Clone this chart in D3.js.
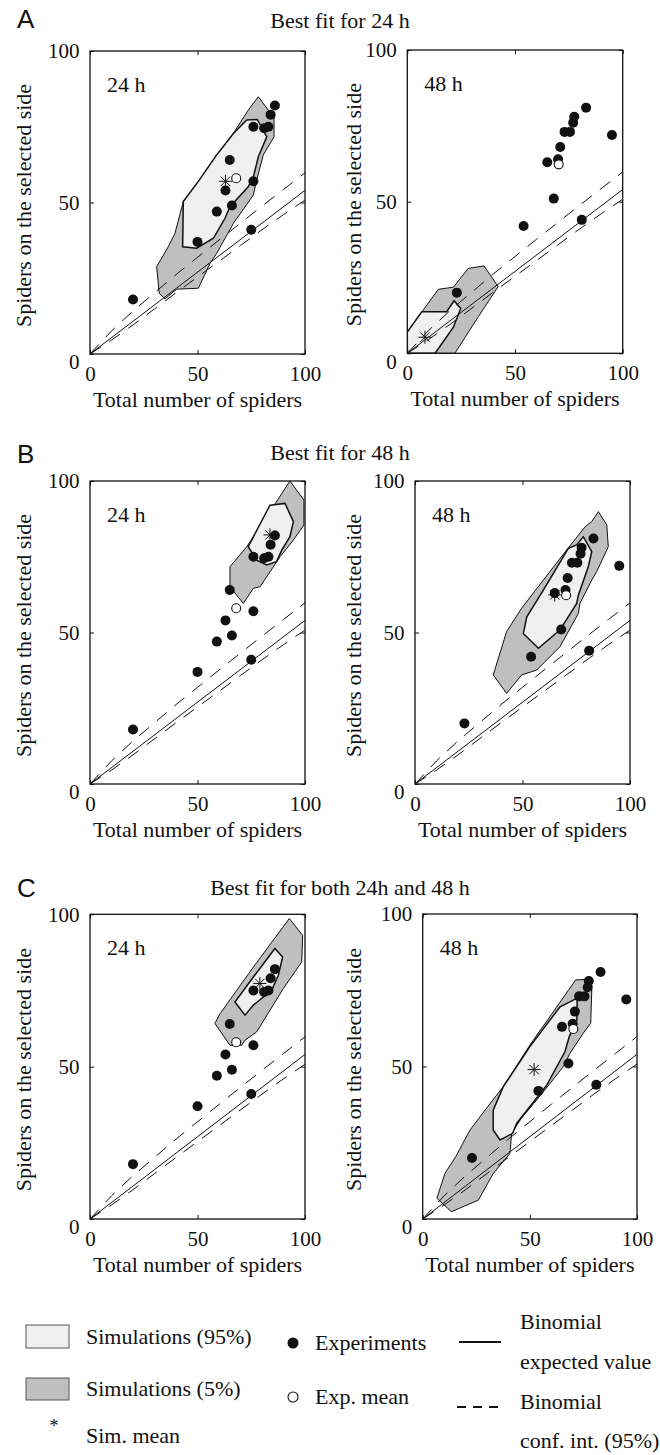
<!DOCTYPE html>
<html>
<head>
<meta charset="utf-8">
<script src="https://cdn.jsdelivr.net/npm/d3@7"></script>
<style>
body { margin: 0; background: #fff; }
text { font-family: "Liberation Serif", "Times New Roman", serif; fill: #111; }
</style>
</head>
<body>
<svg id="chart" width="660" height="1455"></svg>
<script>
// experiments (total spiders, spiders on selected side)
var exp24N = [20, 50, 59, 66, 63, 65, 76, 75, 76, 81, 83, 84, 86];
var exp24S = [18, 37, 47, 49, 54, 64, 57, 41, 75, 74.5, 75, 79, 82];
var exp48N = [23, 54, 68, 81, 65, 70, 71, 73, 75.5, 77, 77.5, 83, 95];
var exp48S = [20, 42, 51, 44, 63, 64, 68, 73, 73, 76, 78, 81, 72];
var expMean24 = [68, 58];
var expMean48 = [70.3, 62.3];

// simulation means
var simMeanA24 = [63, 57];
var simMeanA48 = [8.2, 5.3];
var simMeanB24 = [83.7, 82.2];
var simMeanB48 = [65, 62.4];
var simMeanC24 = [79, 77.3];
var simMeanC48 = [52, 49];

// binomial expected value and 95% conf. int.
var binomMean = [[0, 0], [100, 54]];
var binomUpper = [[0, 0], [10, 7.6], [20, 14.2], [30, 20.2], [40, 26.2], [50, 31.9], [60, 37.6], [70, 43.2], [80, 48.8], [90, 54.3], [100, 59.8]];
var binomLower = [[0, 0], [10, 4.6], [20, 9.6], [30, 14.9], [40, 20.2], [50, 25.4], [60, 30.6], [70, 35.8], [80, 41.0], [90, 46.0], [100, 50.8]];

// simulation regions: 5% (dark) and 95% (light)
var darkA24 = [[78.3,84.9],[82.9,80.5],[85.6,78.9],[85.6,71.7],[80.6,65.7],[77.5,57.4],[76.0,52.5],[66.7,43.1],[58.9,33.2],[55.8,29.9],[50.4,21.7],[40.3,21.4],[34.9,18.2],[32.2,20.0],[31.0,28.8],[36.4,35.4],[39.5,39.8],[43.4,50.3],[51.2,57.4],[57.4,64.0],[66.7,72.8],[73.6,80.5]];
var lightA24 = [[72.9,77.2],[77.8,77.4],[82.2,71.7],[78.3,65.1],[76.0,58.5],[73.6,55.2],[65.1,48.6],[62.8,44.8],[57.4,38.2],[49.6,34.9],[43.1,35.4],[43.4,50.3],[50.8,57.4],[58.9,65.7],[66.7,72.8]];
var darkA48 = [[0,0],[0,7],[14.4,21.1],[21.4,21.8],[28.3,28.0],[35.6,28.8],[42.2,22.0],[33.0,12.1],[22.1,0]];
var lightA48 = [[0,0],[0,7],[6.7,13.7],[18.3,13.7],[21.7,17.3],[24.8,14.8],[21.4,8.6],[12.9,0]];
var darkB24 = [[93.0,100],[99.5,93.7],[99.5,85.5],[94.6,80.5],[88.4,75.0],[79.1,65.1],[76.0,64.6],[71.3,59.6],[65.1,65.1],[65.1,71.7],[72.9,78.3],[82.2,88.2]];
var lightB24 = [[83.7,92.0],[90.7,92.6],[94.6,86.6],[93.0,81.6],[89.2,77.2],[86.8,73.4],[82.2,72.3],[77.5,73.9],[73.6,78.3],[79.1,85.8]];
var darkB48 = [[85.3,89.9],[89.2,85.5],[89.9,78.3],[84.5,70.1],[82.2,67.3],[76.7,59.6],[76.0,56.3],[67.4,45.3],[56.6,37.6],[49.6,36.0],[42.6,29.9],[36.4,36.0],[42.6,50.3],[49.6,58.0],[59.7,67.3],[70.5,77.2],[79.1,84.9],[82.2,86.6]];
var lightB48 = [[78.3,81.6],[82.2,76.7],[80.6,71.7],[76.0,62.4],[75.2,59.6],[67.4,50.8],[57.4,44.8],[50.4,49.7],[52.0,55.2],[59.7,64.0],[71.3,77.8],[75.2,78.9]];
var darkC24 = [[92.7,98.6],[98.9,93.1],[98.5,84.4],[89.9,75.6],[77.5,61.4],[72.1,58.7],[70.5,57.0],[65.1,57.0],[58.1,64.2],[60.5,67.4],[76.0,82.7]];
var lightC24 = [[86.0,88.8],[89.6,86.0],[87.6,80.0],[84.5,75.1],[76.0,70.2],[72.1,66.9],[67.4,71.2],[76.0,79.4]];
var darkC48 = [[71.4,78.4],[78.1,78.6],[78.9,75.1],[78.4,64.2],[74.9,60.9],[68.7,54.3],[65.6,49.9],[53.2,39.0],[46.0,33.0],[41.5,28.1],[40.7,21.5],[32.9,14.9],[29.0,10.0],[26.0,6.2],[13.4,2.4],[6.6,6.8],[10.4,15.0],[15.4,20.4],[22.1,29.2],[29.1,35.7],[37.6,43.4],[50.0,57.0],[60.0,67.0]];
var lightC48 = [[72.1,72.4],[71.9,65.2],[68.4,59.8],[66.4,54.9],[57.9,43.9],[43.9,31.4],[42.0,28.1],[36.1,25.9],[32.9,29.2],[32.9,35.7],[37.6,43.4],[50.1,56.6],[64.1,69.6]];

var tickValues = [0, 50, 100];
var rowTitles = ["Best fit for 24 h", "Best fit for 48 h", "Best fit for both 24h and 48 h"];
var rowLetters = ["A", "B", "C"];
var timeLabels = ["24 h", "48 h"];

var svg = d3.select("#chart");

var rows = [
    { titleY: 28, letterY: 28 },
    { titleY: 460, letterY: 463 },
    { titleY: 895, letterY: 897 }
];

var panels = [
    { x0: 90, x1: 305, y0: 51, y1: 354, ylabX: 31, t: 0, dark: darkA24, light: lightA24, n: exp24N, s: exp24S, mean: expMean24, sim: simMeanA24 },
    { x0: 407.3, x1: 622.7, y0: 50, y1: 353.3, ylabX: 361, t: 1, dark: darkA48, light: lightA48, n: exp48N, s: exp48S, mean: expMean48, sim: simMeanA48 },
    { x0: 90, x1: 305, y0: 481, y1: 784, ylabX: 31, t: 0, dark: darkB24, light: lightB24, n: exp24N, s: exp24S, mean: expMean24, sim: simMeanB24 },
    { x0: 415, x1: 630, y0: 481, y1: 784, ylabX: 361, t: 1, dark: darkB48, light: lightB48, n: exp48N, s: exp48S, mean: expMean48, sim: simMeanB48 },
    { x0: 90, x1: 305, y0: 914.3, y1: 1219, ylabX: 31, t: 0, dark: darkC24, light: lightC24, n: exp24N, s: exp24S, mean: expMean24, sim: simMeanC24 },
    { x0: 422.7, x1: 637, y0: 914, y1: 1219, ylabX: 361, t: 1, dark: darkC48, light: lightC48, n: exp48N, s: exp48S, mean: expMean48, sim: simMeanC48 }
];

// row letters and titles
rows.forEach(function (r, i) {
    svg.append("text")
        .attr("x", 17).attr("y", r.letterY)
        .style("font-family", "'Liberation Sans', Arial, sans-serif")
        .style("font-size", "26px")
        .text(rowLetters[i]);
    svg.append("text")
        .attr("x", 340).attr("y", r.titleY)
        .attr("text-anchor", "middle")
        .style("font-size", "22px")
        .text(rowTitles[i]);
});

function asterisk(g, x, y, r) {
    var d = r * 0.72;
    g.append("path")
        .attr("d", "M" + (x - r) + "," + y + "H" + (x + r) +
            "M" + x + "," + (y - r) + "V" + (y + r) +
            "M" + (x - d) + "," + (y - d) + "L" + (x + d) + "," + (y + d) +
            "M" + (x - d) + "," + (y + d) + "L" + (x + d) + "," + (y - d))
        .attr("stroke", "#111").attr("stroke-width", 1).attr("fill", "none");
}

panels.forEach(function (p, i) {
    var x = d3.scaleLinear().domain([0, 100]).range([p.x0, p.x1]);
    var y = d3.scaleLinear().domain([0, 100]).range([p.y1, p.y0]);
    var g = svg.append("g");

    var clipId = "clip" + i;
    svg.append("clipPath").attr("id", clipId)
        .append("rect")
        .attr("x", p.x0).attr("y", p.y0)
        .attr("width", p.x1 - p.x0).attr("height", p.y1 - p.y0);

    var plot = g.append("g").attr("clip-path", "url(#" + clipId + ")");
    var poly = d3.line().x(function (d) { return x(d[0]); }).y(function (d) { return y(d[1]); });

    plot.append("path")
        .attr("d", poly(p.dark) + "Z")
        .attr("fill", "#bfbfbf").attr("stroke", "#111").attr("stroke-width", 1);
    plot.append("path")
        .attr("d", poly(p.light) + "Z")
        .attr("fill", "#f0f0f0").attr("stroke", "#111").attr("stroke-width", 1.5);

    plot.append("path")
        .attr("d", poly(binomMean))
        .attr("fill", "none").attr("stroke", "#111").attr("stroke-width", 1);
    [binomUpper, binomLower].forEach(function (b) {
        plot.append("path")
            .attr("d", poly(b))
            .attr("fill", "none").attr("stroke", "#111").attr("stroke-width", 1)
            .attr("stroke-dasharray", "13,10");
    });

    // frame and axes
    g.append("rect")
        .attr("x", p.x0).attr("y", p.y0)
        .attr("width", p.x1 - p.x0).attr("height", p.y1 - p.y0)
        .attr("fill", "none").attr("stroke", "#111").attr("stroke-width", 1.3);

    var xAxis = g.append("g")
        .attr("transform", "translate(0," + p.y1 + ")")
        .call(d3.axisBottom(x).tickValues(tickValues).tickSize(-4).tickSizeOuter(0).tickPadding(12));
    var yAxis = g.append("g")
        .attr("transform", "translate(" + p.x0 + ",0)")
        .call(d3.axisLeft(y).tickValues(tickValues).tickSize(-4).tickSizeOuter(0).tickPadding(10.5));
    g.append("g")
        .attr("transform", "translate(0," + p.y0 + ")")
        .call(d3.axisTop(x).tickValues(tickValues).tickSize(-4).tickSizeOuter(0).tickFormat(""));
    g.append("g")
        .attr("transform", "translate(" + p.x1 + ",0)")
        .call(d3.axisRight(y).tickValues(tickValues).tickSize(-4).tickSizeOuter(0).tickFormat(""));

    g.selectAll(".domain").remove();
    g.selectAll(".tick line").attr("stroke", "#111");
    g.selectAll(".tick text")
        .style("font-family", "'Liberation Serif', 'Times New Roman', serif")
        .style("font-size", "21px").attr("fill", "#111");
    yAxis.selectAll(".tick")
        .filter(function (d) { return d === 0; })
        .select("text").attr("y", 8);

    // axis labels
    g.append("text")
        .attr("x", (p.x0 + p.x1) / 2).attr("y", p.y1 + 53)
        .attr("text-anchor", "middle")
        .style("font-size", "22px")
        .text("Total number of spiders");
    g.append("text")
        .attr("transform", "translate(" + p.ylabX + "," + ((p.y0 + p.y1) / 2 + 3) + ") rotate(-90)")
        .attr("text-anchor", "middle")
        .style("font-size", "22px")
        .text("Spiders on the selected side");

    g.append("text")
        .attr("x", p.x0 + 17).attr("y", p.y0 + 41)
        .style("font-size", "22px")
        .text(timeLabels[p.t]);

    // experiments
    var pts = p.n.map(function (v, k) { return [v, p.s[k]]; });
    g.selectAll(null)
        .data(pts)
        .enter().append("circle")
        .attr("cx", function (d) { return x(d[0]); })
        .attr("cy", function (d) { return y(d[1]); })
        .attr("r", 5)
        .attr("fill", "#111");

    asterisk(g, x(p.sim[0]), y(p.sim[1]), 6.5);

    g.append("circle")
        .attr("cx", x(p.mean[0])).attr("cy", y(p.mean[1]))
        .attr("r", 4.5)
        .attr("fill", "#fff").attr("stroke", "#111").attr("stroke-width", 1.1);
});

// legend
var leg = svg.append("g");
leg.append("rect").attr("x", 26).attr("y", 1325).attr("width", 43).attr("height", 23)
    .attr("fill", "#f0f0f0").attr("stroke", "#555").attr("stroke-width", 1);
leg.append("rect").attr("x", 26).attr("y", 1378).attr("width", 43).attr("height", 22)
    .attr("fill", "#bfbfbf").attr("stroke", "#555").attr("stroke-width", 1);
leg.append("text").attr("x", 54).attr("y", 1432).attr("text-anchor", "middle")
    .style("font-size", "18px").text("*");
leg.append("text").attr("x", 86).attr("y", 1344).style("font-size", "22px").text("Simulations (95%)");
leg.append("text").attr("x", 86).attr("y", 1396).style("font-size", "22px").text("Simulations (5%)");
leg.append("text").attr("x", 86).attr("y", 1443).style("font-size", "22px").text("Sim. mean");

leg.append("circle").attr("cx", 293).attr("cy", 1343).attr("r", 5.5).attr("fill", "#111");
leg.append("circle").attr("cx", 293).attr("cy", 1397).attr("r", 5)
    .attr("fill", "#fff").attr("stroke", "#111").attr("stroke-width", 1.1);
leg.append("text").attr("x", 315).attr("y", 1350).style("font-size", "22px").text("Experiments");
leg.append("text").attr("x", 315).attr("y", 1404).style("font-size", "22px").text("Exp. mean");

leg.append("line").attr("x1", 459).attr("x2", 501).attr("y1", 1342).attr("y2", 1342)
    .attr("stroke", "#111").attr("stroke-width", 2.2);
leg.append("line").attr("x1", 457).attr("x2", 501).attr("y1", 1407).attr("y2", 1407)
    .attr("stroke", "#111").attr("stroke-width", 2.2).attr("stroke-dasharray", "9,7");
leg.append("text").attr("x", 520).attr("y", 1329).style("font-size", "22px").text("Binomial");
leg.append("text").attr("x", 520).attr("y", 1369).style("font-size", "22px").text("expected value");
leg.append("text").attr("x", 520).attr("y", 1409).style("font-size", "22px").text("Binomial");
leg.append("text").attr("x", 520).attr("y", 1448).style("font-size", "22px").text("conf. int. (95%)");
</script>
</body>
</html>
